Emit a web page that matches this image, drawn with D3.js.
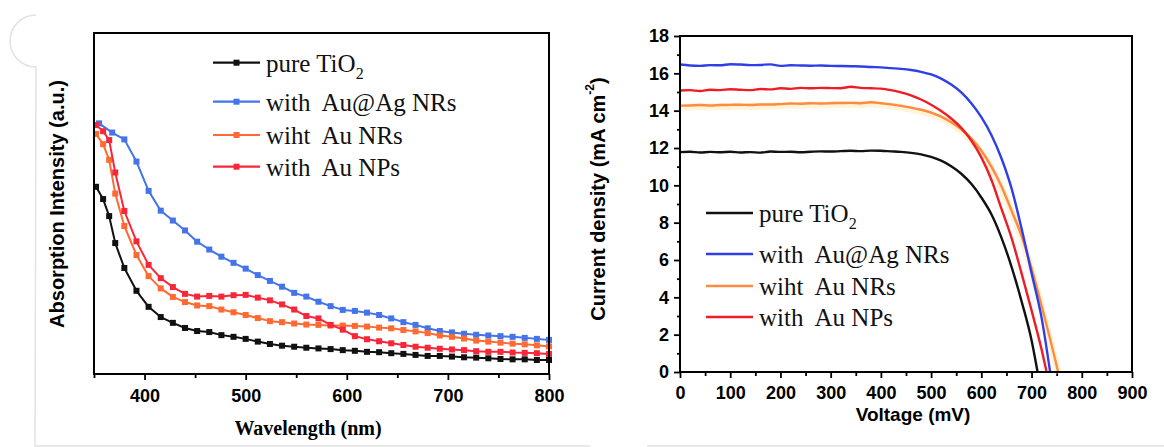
<!DOCTYPE html>
<html>
<head>
<meta charset="utf-8">
<script src="https://cdn.jsdelivr.net/npm/d3@7"></script>
<style>
  body { margin: 0; background: #fff; }
  svg { display: block; }
</style>
</head>
<body>
<svg id="chart" width="1164" height="447"></svg>
<script>
// ---------- UV-vis absorption spectra (left panel) ----------
const wavelengthMain = [352, 359, 365, 371, 380, 392, 404, 416, 428, 440, 452, 464, 476, 488, 500,
  512, 524, 536, 548, 560, 572, 584, 596, 608, 620, 632, 644, 656, 668, 680, 692, 704, 716, 728,
  740, 752, 764, 776, 788, 800];
const wavelengthAuAg = [355, 368, 380, 392, 404, 416, 428, 440, 452, 464, 476, 488, 500,
  512, 524, 536, 548, 560, 572, 584, 596, 608, 620, 632, 644, 656, 668, 680, 692, 704, 716, 728,
  740, 752, 764, 776, 788, 800];

const absTiO2 = [54.9, 51.3, 46.3, 38.4, 31.1, 24.4, 19.7, 16.7, 15.0, 13.5, 12.6, 12.3, 11.4, 10.9,
  10.3, 9.5, 8.8, 8.3, 8.0, 7.7, 7.5, 7.3, 7.0, 6.8, 6.5, 6.4, 6.1, 5.9, 5.6, 5.3, 5.3, 5.1, 4.9,
  4.8, 4.6, 4.4, 4.3, 4.3, 4.1, 4.1];
const absAuAg = [73.5, 70.8, 68.8, 62.3, 53.7, 47.9, 45.0, 42.1, 38.8, 36.5, 34.4, 32.6, 30.9, 29.0,
  27.3, 25.6, 23.8, 22.7, 21.2, 19.9, 18.8, 18.5, 18.0, 17.3, 16.3, 15.2, 14.4, 13.4, 12.6, 12.2,
  11.8, 11.5, 11.3, 11.1, 10.9, 10.6, 10.3, 10.0];
const absAuNR = [70.4, 67.4, 62.8, 52.9, 43.4, 34.9, 28.7, 25.1, 22.6, 21.1, 20.1, 19.9, 18.9, 18.1,
  17.3, 16.4, 15.5, 15.2, 14.8, 14.5, 14.4, 14.2, 14.2, 14.1, 13.9, 13.6, 13.4, 12.9, 12.5, 12.0,
  11.3, 10.9, 10.4, 9.8, 9.5, 9.2, 8.9, 8.7, 8.4, 8.1];
const absAuNP = [73.0, 71.2, 68.6, 59.1, 47.8, 38.9, 32.0, 28.1, 25.5, 23.5, 22.7, 22.9, 22.7, 23.1,
  23.2, 22.4, 21.6, 20.4, 18.9, 17.0, 16.3, 14.4, 13.0, 11.1, 10.2, 9.6, 9.0, 8.5, 8.0, 7.7, 7.4,
  7.2, 7.0, 6.7, 6.5, 6.5, 6.3, 6.2, 6.1, 5.9];

const wlTicksMajor = [400, 500, 600, 700, 800];
const wlTicksMinor = [350, 450, 550, 650, 750];

// ---------- J-V curves (right panel) ----------
const voltTiO2 = [0, 20, 40, 60, 80, 100, 120, 140, 160, 180, 200, 220, 240, 260, 280, 300, 320, 340,
  360, 380, 400, 420, 440, 460, 480, 500, 520, 540, 560, 580, 600, 620, 640, 660, 680, 700, 712];
const jTiO2 = [11.78, 11.80, 11.76, 11.79, 11.77, 11.80, 11.76, 11.78, 11.75, 11.81, 11.79, 11.80,
  11.77, 11.80, 11.82, 11.81, 11.83, 11.85, 11.83, 11.86, 11.85, 11.82, 11.79, 11.74, 11.66, 11.52,
  11.32, 11.02, 10.62, 10.08, 9.35, 8.45, 7.2, 5.65, 3.8, 1.7, 0];

const voltAuAg = [0, 20, 40, 60, 80, 100, 120, 140, 160, 180, 200, 220, 240, 260, 280, 300, 320, 340,
  360, 380, 400, 420, 440, 460, 480, 500, 520, 540, 560, 580, 600, 620, 640, 660, 680, 700, 720, 737];
const jAuAg = [16.47, 16.42, 16.40, 16.44, 16.43, 16.49, 16.47, 16.44, 16.45, 16.48, 16.40, 16.43,
  16.42, 16.41, 16.42, 16.40, 16.39, 16.38, 16.37, 16.34, 16.32, 16.28, 16.24, 16.18, 16.08, 15.94,
  15.72, 15.40, 14.98, 14.40, 13.65, 12.70, 11.45, 9.85, 7.7, 5.3, 2.9, 0];

const voltAuNR = [0, 20, 40, 60, 80, 100, 120, 140, 160, 180, 200, 220, 240, 260, 280, 300, 320, 340,
  360, 380, 400, 420, 440, 460, 480, 500, 520, 540, 560, 580, 600, 620, 640, 660, 680, 700, 720, 740, 753];
const jAuNR = [14.27, 14.28, 14.30, 14.28, 14.30, 14.31, 14.32, 14.30, 14.33, 14.33, 14.35, 14.38,
  14.37, 14.40, 14.38, 14.40, 14.41, 14.42, 14.40, 14.45, 14.40, 14.34, 14.26, 14.16, 14.05, 13.90,
  13.68, 13.38, 13.00, 12.50, 11.85, 11.00, 9.95, 8.65, 7.3, 5.55, 3.55, 1.45, 0];

const voltAuNP = [0, 20, 40, 60, 80, 100, 120, 140, 160, 180, 200, 220, 240, 260, 280, 300, 320, 340,
  360, 380, 400, 420, 440, 460, 480, 500, 520, 540, 560, 580, 600, 620, 640, 660, 680, 700, 720, 730];
const jAuNP = [15.08, 15.10, 15.05, 15.12, 15.10, 15.15, 15.12, 15.10, 15.16, 15.14, 15.20, 15.17,
  15.22, 15.20, 15.22, 15.21, 15.20, 15.28, 15.22, 15.20, 15.18, 15.10, 14.98, 14.82, 14.60, 14.32,
  13.98, 13.58, 13.08, 12.40, 11.50, 10.30, 8.75, 7.2, 5.3, 3.3, 1.2, 0];

const voltTicksMajor = [0, 100, 200, 300, 400, 500, 600, 700, 800, 900];
const voltTicksMinor = [50, 150, 250, 350, 450, 550, 650, 750, 850];
const jTicksMajor = [0, 2, 4, 6, 8, 10, 12, 14, 16, 18];
const jTicksMinor = [1, 3, 5, 7, 9, 11, 13, 15, 17];

const seriesNames = ["pure TiO", "with  Au@Ag NRs", "wiht  Au NRs", "with  Au NPs"];

const SANS = "'Liberation Sans', Arial, sans-serif";
const SERIF = "'Liberation Serif', 'Times New Roman', serif";

const svg = d3.select("#chart");

// faint page decoration: rounded corner and outline
svg.append("path")
  .attr("d", "M36,15 A26,26 0 0 0 36,67 L35,446 L590,446 M647,446 L1164,446")
  .attr("fill", "none").attr("stroke", "#e2e2e2").attr("stroke-width", 1.5);

function styleAxis(g, size, family) {
  g.select(".domain").remove();
  g.selectAll("line").attr("stroke", "#000").attr("stroke-width", 1.8);
  g.selectAll("text").attr("fill", "#000").attr("font-size", size)
    .attr("font-weight", "bold").attr("font-family", family);
}

// ================= Left panel =================
const xA = d3.scaleLinear().domain([350, 800]).range([94, 549]);
const yA = d3.scaleLinear().domain([0, 100]).range([374, 33]);

const gA = svg.append("g");

gA.append("g").attr("transform", "translate(0,374)")
  .call(d3.axisBottom(xA).tickValues(wlTicksMinor).tickSize(4).tickFormat(""))
  .call(g => styleAxis(g, 18, SANS));
gA.append("g").attr("transform", "translate(0,374)")
  .call(d3.axisBottom(xA).tickValues(wlTicksMajor).tickSize(6).tickPadding(9.5).tickFormat(d3.format("d")))
  .call(g => styleAxis(g, 18, SANS));

const colsA = ["#111111", "#4474e8", "#ff6a33", "#f7273a"];
const dataA = [
  { x: wavelengthMain, y: absTiO2 },
  { x: wavelengthAuAg, y: absAuAg },
  { x: wavelengthMain, y: absAuNR },
  { x: wavelengthMain, y: absAuNP }
];

const lineA = d3.line().x(d => xA(d[0])).y(d => yA(d[1]));
dataA.forEach((s, i) => {
  const pts = s.x.map((w, k) => [w, s.y[k]]);
  gA.append("path").datum(pts).attr("d", lineA)
    .attr("fill", "none").attr("stroke", colsA[i]).attr("stroke-width", 2)
    .attr("stroke-linejoin", "round");
  gA.append("g").selectAll("rect").data(pts).join("rect")
    .attr("x", d => xA(d[0]) - 3).attr("y", d => yA(d[1]) - 3)
    .attr("width", 6).attr("height", 6).attr("fill", colsA[i]);
});

gA.append("rect").attr("x", 94).attr("y", 33).attr("width", 455).attr("height", 341)
  .attr("fill", "none").attr("stroke", "#000").attr("stroke-width", 2);

// legend
const legA = [62.7, 101.7, 135, 166.7];
seriesNames.forEach((name, i) => {
  const y = legA[i];
  gA.append("line").attr("x1", 213).attr("x2", 260).attr("y1", y).attr("y2", y)
    .attr("stroke", colsA[i]).attr("stroke-width", 2.2);
  gA.append("rect").attr("x", 233.5).attr("y", y - 3).attr("width", 6).attr("height", 6)
    .attr("fill", colsA[i]);
  const t = gA.append("text").attr("x", 266).attr("y", y + 9)
    .attr("font-family", SERIF).attr("font-size", 25).attr("fill", "#111")
    .attr("xml:space", "preserve").style("white-space", "pre").text(name);
  if (i === 0) t.append("tspan").attr("font-size", 16).attr("dy", 7).text("2");
});

// axis titles
gA.append("text").attr("transform", "translate(57,204) rotate(-90)")
  .attr("text-anchor", "middle").attr("dominant-baseline", "central")
  .attr("font-family", SANS).attr("font-weight", "bold").attr("font-size", 20)
  .text("Absorption Intensity (a.u.)");
gA.append("text").attr("x", 308).attr("y", 435).attr("text-anchor", "middle")
  .attr("font-family", SERIF).attr("font-weight", "bold").attr("font-size", 20)
  .text("Wavelength (nm)");

// ================= Right panel =================
const xB = d3.scaleLinear().domain([0, 900]).range([680, 1132]);
const yB = d3.scaleLinear().domain([0, 18]).range([372, 36]);

const gB = svg.append("g");

gB.append("g").attr("transform", "translate(0,372)")
  .call(d3.axisBottom(xB).tickValues(voltTicksMinor).tickSize(4).tickFormat(""))
  .call(g => styleAxis(g, 18, SANS));
gB.append("g").attr("transform", "translate(0,372)")
  .call(d3.axisBottom(xB).tickValues(voltTicksMajor).tickSize(6).tickPadding(8).tickFormat(d3.format("d")))
  .call(g => styleAxis(g, 18, SANS));
gB.append("g").attr("transform", "translate(680,0)")
  .call(d3.axisLeft(yB).tickValues(jTicksMinor).tickSize(3).tickFormat(""))
  .call(g => styleAxis(g, 18, SANS));
gB.append("g").attr("transform", "translate(680,0)")
  .call(d3.axisLeft(yB).tickValues(jTicksMajor).tickSize(6).tickPadding(5).tickFormat(d3.format("d")))
  .call(g => styleAxis(g, 18, SANS));

const colsB = ["#111111", "#2f3fe6", "#ff8a42", "#ee1d25"];
const dataB = [
  { x: voltTiO2, y: jTiO2 },
  { x: voltAuAg, y: jAuAg },
  { x: voltAuNR, y: jAuNR },
  { x: voltAuNP, y: jAuNP }
];
const lineB = d3.line().curve(d3.curveMonotoneX).x(d => xB(d[0])).y(d => yB(d[1]));

// draw order: orange first (with its soft halo), then the others on top
[2, 0, 1, 3].forEach(i => {
  const s = dataB[i];
  const pts = s.x.map((v, k) => [v, s.y[k]]);
  if (i === 2) {
    gB.append("path").datum(pts).attr("d", lineB)
      .attr("fill", "none").attr("stroke", "#ffe7a8").attr("stroke-width", 7)
      .attr("stroke-opacity", 0.45).attr("transform", "translate(0,1.5)");
  }
  gB.append("path").datum(pts).attr("d", lineB)
    .attr("fill", "none").attr("stroke", colsB[i]).attr("stroke-width", 2.4)
    .attr("stroke-linejoin", "round");
});

gB.append("rect").attr("x", 680).attr("y", 36).attr("width", 452).attr("height", 336)
  .attr("fill", "none").attr("stroke", "#000").attr("stroke-width", 2);

// legend
const legB = [213, 254, 286, 317];
seriesNames.forEach((name, i) => {
  const y = legB[i];
  gB.append("line").attr("x1", 706).attr("x2", 753).attr("y1", y).attr("y2", y)
    .attr("stroke", colsB[i]).attr("stroke-width", 2.6);
  const t = gB.append("text").attr("x", 759).attr("y", y + 9)
    .attr("font-family", SERIF).attr("font-size", 25).attr("fill", "#111")
    .attr("xml:space", "preserve").style("white-space", "pre").text(name);
  if (i === 0) t.append("tspan").attr("font-size", 16).attr("dy", 7).text("2");
});

// axis titles
const yTitle = gB.append("text").attr("transform", "translate(598,199) rotate(-90)")
  .attr("text-anchor", "middle").attr("dominant-baseline", "central")
  .attr("font-family", SANS).attr("font-weight", "bold").attr("font-size", 20);
yTitle.append("tspan").text("Current density (mA cm");
yTitle.append("tspan").attr("font-size", 12).attr("dy", -8).text("-2");
yTitle.append("tspan").attr("dy", 8).text(")");

gB.append("text").attr("x", 913).attr("y", 421).attr("text-anchor", "middle")
  .attr("font-family", SANS).attr("font-weight", "bold").attr("font-size", 19)
  .text("Voltage (mV)");
</script>
</body>
</html>
